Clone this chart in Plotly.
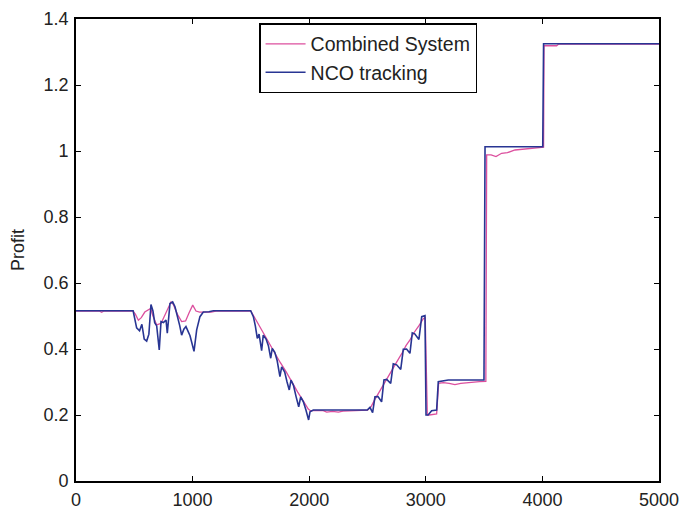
import plotly.graph_objects as go

# NCO tracking (blue)
nco_x = [0, 490, 505, 520, 545, 565, 585, 606, 625, 643, 660, 675, 692, 714, 729, 750, 772, 783,
         806, 829, 849, 870, 890, 906, 925, 943, 960, 978, 1012, 1035, 1063, 1092, 1140, 1178, 1498,
         1521, 1538, 1555, 1570, 1592, 1606, 1630, 1650, 1670, 1683, 1705, 1725, 1749, 1764, 1790,
         1810, 1829, 1844, 1865, 1888, 1910, 1927, 1950, 1972, 1995, 2007, 2035, 2498,
         2521, 2544, 2564, 2590, 2621, 2641, 2665, 2699, 2721, 2750, 2785, 2807, 2835, 2864, 2884,
         2905, 2920, 2941, 2965, 2993, 3002, 3020, 3050, 3093, 3107, 3150, 3193, 3499, 3502, 3508,
         3994, 4003, 4010, 5000]
nco_y = [0.516, 0.516, 0.49, 0.464, 0.455, 0.475, 0.43, 0.424, 0.445, 0.535, 0.515, 0.48, 0.47, 0.397,
         0.483, 0.48, 0.488, 0.448, 0.538, 0.543, 0.528, 0.50, 0.47, 0.442, 0.46, 0.468, 0.455, 0.44,
         0.393, 0.458, 0.498, 0.512, 0.513, 0.516, 0.516,
         0.498, 0.47, 0.432, 0.445, 0.395, 0.442, 0.43, 0.41, 0.372, 0.402, 0.39, 0.365, 0.316, 0.346,
         0.33, 0.30, 0.276, 0.306, 0.29, 0.255, 0.225, 0.255, 0.24, 0.215, 0.185, 0.210, 0.215, 0.215,
         0.223, 0.207, 0.255, 0.256, 0.240, 0.306, 0.308, 0.296, 0.355, 0.352, 0.338, 0.399, 0.400,
         0.387, 0.449, 0.446, 0.44, 0.429, 0.498, 0.501, 0.200, 0.200, 0.213, 0.215, 0.301, 0.304,
         0.306, 0.306, 0.60, 1.013, 1.013, 1.013, 1.325, 1.325, 1.325]

# Combined System (pink)
comb_x = [0, 200, 220, 240, 490, 510, 535, 560, 590, 612, 640, 660, 692, 730, 770, 815, 835, 870,
          906, 940, 970, 1001, 1029, 1060, 1160, 1200, 1500,
          1540, 1600, 1650, 1700, 1750, 1800, 1850, 1900, 1950, 1992, 2010, 2120, 2150, 2200, 2250,
          2290, 2500,
          2530, 2560, 2600, 2650, 2700, 2750, 2800, 2830, 2860, 2900, 2940, 2979, 2995, 3013, 3030,
          3093, 3110, 3150, 3200, 3250, 3300, 3350, 3400, 3460, 3515, 3522, 3560, 3602, 3650, 3700,
          3765, 3800, 3865, 3994, 4010, 4014, 4122, 4140, 5000]
comb_y = [0.515, 0.515, 0.511, 0.515, 0.515, 0.505, 0.487, 0.495, 0.512, 0.518, 0.523, 0.50, 0.473,
          0.478, 0.51, 0.543, 0.535, 0.505, 0.483, 0.485, 0.51, 0.533, 0.515, 0.512, 0.512, 0.515, 0.515,
          0.49, 0.452, 0.42, 0.392, 0.36, 0.332, 0.30, 0.27, 0.242, 0.218, 0.213, 0.213, 0.209, 0.211,
          0.209, 0.212, 0.215,
          0.225, 0.245, 0.27, 0.30, 0.33, 0.36, 0.39, 0.41, 0.425, 0.45, 0.47, 0.492, 0.495, 0.20, 0.200,
          0.203, 0.296, 0.298, 0.296, 0.292, 0.296, 0.298, 0.299, 0.301, 0.302, 0.988, 0.988, 0.983,
          0.993, 0.995, 1.003, 1.004, 1.008, 1.010, 1.012, 1.319, 1.319, 1.324, 1.324]

x_ticks = [0, 1000, 2000, 3000, 4000, 5000]
y_ticks = [0, 0.2, 0.4, 0.6, 0.8, 1.0, 1.2, 1.4]
y_tick_labels = ["0", "0.2", "0.4", "0.6", "0.8", "1", "1.2", "1.4"]

FONT = "Liberation Sans, Arial, sans-serif"

fig = go.Figure()
fig.add_trace(go.Scatter(x=comb_x, y=comb_y, mode="lines", name="Combined System",
                         line=dict(color="#dc4f9e", width=1.3)))
fig.add_trace(go.Scatter(x=nco_x, y=nco_y, mode="lines", name="NCO tracking",
                         line=dict(color="#283593", width=1.6)))

axis_common = dict(showline=True, linecolor="black", linewidth=1.8, mirror="ticks",
                   ticks="inside", ticklen=5, tickwidth=1, tickcolor="black",
                   showgrid=False, zeroline=False, automargin=False,
                   tickfont=dict(family=FONT, size=18, color="#222222"))

fig.update_layout(
    width=683, height=508,
    margin=dict(l=76, r=24, t=19, b=27),
    paper_bgcolor="white", plot_bgcolor="white",
    showlegend=True,
    legend=dict(x=0.314, y=0.991, xanchor="left", yanchor="top",
                bordercolor="black", borderwidth=1.5, bgcolor="white",
                font=dict(family=FONT, size=19.5, color="#222222"),
                itemwidth=40, tracegroupgap=0),
    xaxis=dict(range=[0, 5000], tickvals=x_ticks, ticktext=[str(v) for v in x_ticks],
               ticklabelstandoff=1, **axis_common),
    yaxis=dict(range=[0, 1.4], tickvals=y_ticks, ticktext=y_tick_labels,
               ticklabelstandoff=2,
               title=dict(text="Profit", standoff=14,
                          font=dict(family=FONT, size=18, color="#222222")),
               **axis_common),
)

# remove the default 8px page margin so the 683x508 figure fills the window exactly
fig.write_html("out.html",
               config={"displayModeBar": False},
               post_script="document.body.style.margin='0';document.body.style.overflow='hidden';")
